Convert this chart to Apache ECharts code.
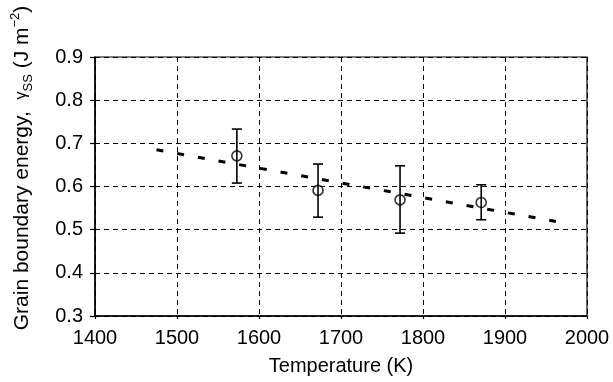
<!DOCTYPE html>
<html lang="en">
<head>
    <meta charset="UTF-8">
    <title>Grain boundary energy</title>
    <script type="text/javascript" src="https://cdn.jsdelivr.net/npm/echarts@6/dist/echarts.min.js"></script>
    <style>
        html, body { margin: 0; padding: 0; background: #fff; }
    </style>
</head>
<body>
<div id="chart" style="width: 613px;height: 382px"></div>
<script type="text/javascript">
    // measured points
    var temps = [1573, 1672, 1772, 1871];
    var energy = [0.671, 0.591, 0.569, 0.563];
    var errLow = [0.608, 0.529, 0.492, 0.523];
    var errHigh = [0.733, 0.652, 0.648, 0.604];
    // fitted line
    var fitT = [1475, 1962];
    var fitE = [0.685, 0.519];
    // axes
    var xTicks = [1400, 1500, 1600, 1700, 1800, 1900, 2000];
    var yTicks = [0.3, 0.4, 0.5, 0.6, 0.7, 0.8, 0.9];

    var font = "'Liberation Sans', Arial, sans-serif";
    var ink = '#000';

    var pts = [];
    var bars = [];
    for (var i = 0; i < temps.length; i++) {
        pts.push([temps[i], energy[i]]);
        bars.push([temps[i], errLow[i], errHigh[i]]);
    }
    var fit = [];
    for (var i = 0; i < fitT.length; i++) {
        fit.push([fitT[i], fitE[i]]);
    }

    var myChart = echarts.init(document.getElementById('chart'));
    var option = {
        animation: false,
        backgroundColor: '#fff',
        grid: {
            left: 95, right: 26, top: 57, bottom: 66,
            show: true,
            borderColor: ink,
            borderWidth: 1.2
        },
        xAxis: {
            type: 'value',
            min: xTicks[0], max: xTicks[xTicks.length - 1], interval: 100,
            name: 'Temperature (K)',
            nameLocation: 'middle',
            nameGap: 40,
            nameTextStyle: { color: ink, fontSize: 20, fontFamily: font },
            axisLine: { show: true, lineStyle: { color: ink, width: 1.5 } },
            axisTick: { show: true, length: 3, lineStyle: { color: ink, width: 1.2 } },
            axisLabel: {
                color: ink, fontSize: 20, fontFamily: font, margin: 12,
                formatter: function (v) { return String(v); }
            },
            splitLine: { show: true, lineStyle: { color: ink, width: 1, type: [5, 4] } }
        },
        yAxis: {
            type: 'value',
            min: yTicks[0], max: yTicks[yTicks.length - 1], interval: 0.1,
            axisLine: { show: true, lineStyle: { color: ink, width: 1.5 } },
            axisTick: { show: true, length: 5, lineStyle: { color: ink, width: 1.2 } },
            axisLabel: {
                color: ink, fontSize: 20, fontFamily: font, margin: 12,
                formatter: function (v) { return v.toFixed(1); }
            },
            splitLine: { show: true, lineStyle: { color: ink, width: 1, type: [5, 4] } }
        },
        graphic: [{
            type: 'text',
            x: 22,
            y: 168,
            rotation: Math.PI / 2,
            style: {
                text: '{a|Grain boundary energy,  }{g|γ}{sub|SS}{a| (J m}{sup|−2}{a|)}',
                align: 'center',
                verticalAlign: 'middle',
                fill: ink,
                rich: {
                    a: { fontSize: 21, fontFamily: font, color: ink, lineHeight: 26, verticalAlign: 'middle' },
                    g: { fontSize: 16, fontFamily: font, color: ink, lineHeight: 26, verticalAlign: 'middle' },
                    sub: { fontSize: 13, fontFamily: font, color: ink, lineHeight: 26, verticalAlign: 'bottom' },
                    sup: { fontSize: 13, fontFamily: font, color: ink, lineHeight: 26, verticalAlign: 'top' }
                }
            }
        }],
        series: [
            {
                name: 'fit',
                type: 'line',
                data: fit,
                symbol: 'none',
                lineStyle: { color: ink, width: 3, type: [7, 14] },
                z: 3
            },
            {
                name: 'error',
                type: 'custom',
                data: bars,
                renderItem: function (params, api) {
                    var x = api.value(0);
                    var lo = api.coord([x, api.value(1)]);
                    var hi = api.coord([x, api.value(2)]);
                    var cap = 5;
                    var st = { stroke: ink, lineWidth: 1.6 };
                    return {
                        type: 'group',
                        children: [
                            { type: 'line', shape: { x1: lo[0], y1: lo[1], x2: hi[0], y2: hi[1] }, style: st },
                            { type: 'line', shape: { x1: lo[0] - cap, y1: lo[1], x2: lo[0] + cap, y2: lo[1] }, style: st },
                            { type: 'line', shape: { x1: hi[0] - cap, y1: hi[1], x2: hi[0] + cap, y2: hi[1] }, style: st }
                        ]
                    };
                },
                z: 4
            },
            {
                name: 'measured',
                type: 'scatter',
                data: pts,
                symbol: 'circle',
                symbolSize: 10,
                itemStyle: { color: 'rgba(255,255,255,0)', borderColor: ink, borderWidth: 1.6 },
                z: 5
            }
        ]
    };
    option && myChart.setOption(option);
</script>
</body>
</html>
